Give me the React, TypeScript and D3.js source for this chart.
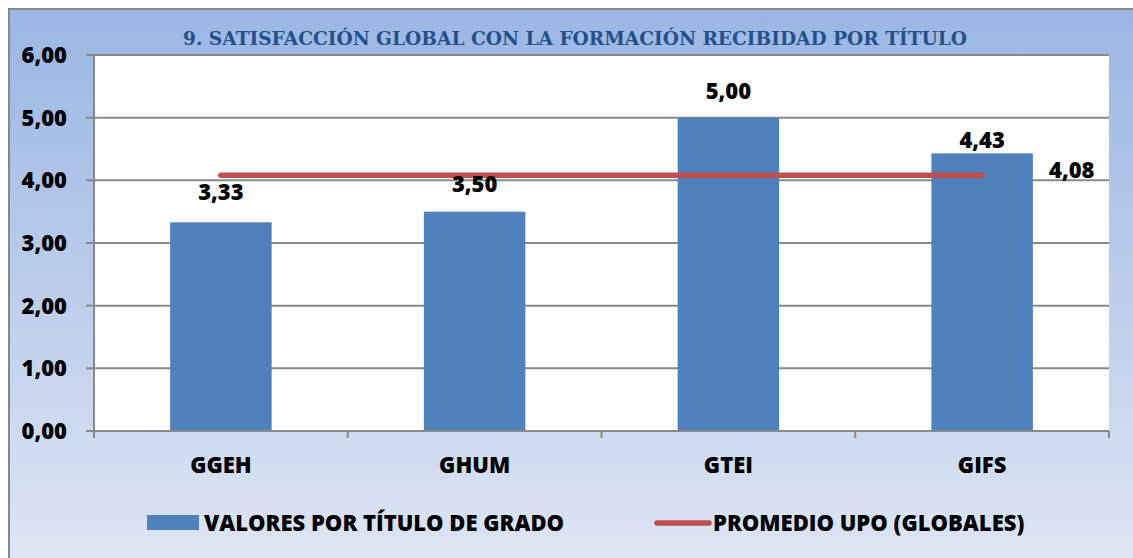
import React from 'react';
import * as d3 from 'd3';

const categories = ['GGEH', 'GHUM', 'GTEI', 'GIFS'];
const values = [3.33, 3.5, 5.0, 4.43];
const average = 4.08;
const yTicks = [0, 1, 2, 3, 4, 5, 6];
const title = '9. SATISFACCIÓN GLOBAL CON LA FORMACIÓN RECIBIDAD POR TÍTULO';
const legendBar = 'VALORES POR TÍTULO DE GRADO';
const legendLine = 'PROMEDIO UPO (GLOBALES)';

const W = 1133, H = 558;
const plot = { left: 94, right: 1109, top: 55, bottom: 431 };
const font = '"Open Sans", Lato, sans-serif';
// labels were nudged by hand in the original, so lift each one on its own
const labelLift = [22, 19.5, 18.5, 5];
const fmt = (v: number) => v.toFixed(2).replace('.', ',');

const App = () => {
  const x = d3.scaleBand().domain(categories).range([plot.left, plot.right]).padding(0);
  const y = d3.scaleLinear().domain([0, 6]).range([plot.bottom, plot.top]);
  const barW = x.bandwidth() * 0.4;
  const cx = (c: string) => (x(c) as number) + x.bandwidth() / 2;

  const line = d3.line<number>()
    .x((d, i) => cx(categories[i]))
    .y(d => y(d));

  const bounds = [...categories.map(c => x(c) as number), plot.right];

  return (
    <div>
      <style>{`body{margin:0;overflow:hidden}`}</style>
      <svg width={W} height={H} style={{ display: 'block' }} fontFamily={font}>
        <defs>
          <linearGradient id="bg" x1="0" y1="0" x2="0" y2="1">
            <stop offset="0" stopColor="#9ab6e3" />
            <stop offset="0.45" stopColor="#b9cbea" />
            <stop offset="1" stopColor="#e1e8f5" />
          </linearGradient>
        </defs>
        <rect x={9} y={9} width={W + 20} height={H + 20} fill="url(#bg)" stroke="#878787" strokeWidth={2} />
        <text x={575} y={45} textAnchor="middle" fontFamily='"DejaVu Serif", "Liberation Serif", serif'
          fontWeight="bold" fontSize={18.6} fill="#24508a">{title}</text>

        <rect x={plot.left} y={plot.top} width={plot.right - plot.left} height={plot.bottom - plot.top} fill="#fff" />

        {yTicks.map(t => (
          <g key={t}>
            {t > 0 && <line x1={plot.left} x2={plot.right} y1={y(t)} y2={y(t)} stroke="#898989" strokeWidth={2} />}
            <line x1={86} x2={plot.left} y1={y(t)} y2={y(t)} stroke="#898989" strokeWidth={2} />
            <text x={67} y={y(t) + 8} textAnchor="end" fontWeight={800} fontSize={22} fill="#000">{fmt(t)}</text>
          </g>
        ))}

        {categories.map((c, i) => (
          <g key={c}>
            <rect x={cx(c) - barW / 2} y={y(values[i])} width={barW} height={plot.bottom - y(values[i])} fill="#4f81bd" />
            <text x={cx(c)} y={473} textAnchor="middle" fontWeight={800} fontSize={22} fill="#000">{c}</text>
          </g>
        ))}

        <line x1={plot.left} x2={plot.left} y1={plot.top} y2={plot.bottom} stroke="#898989" strokeWidth={2} />
        <line x1={plot.left} x2={plot.right} y1={plot.bottom} y2={plot.bottom} stroke="#898989" strokeWidth={2} />
        {bounds.map((b, i) => (
          <line key={i} x1={b} x2={b} y1={plot.bottom} y2={438} stroke="#898989" strokeWidth={2} />
        ))}

        <path d={line(categories.map(() => average)) || ''} fill="none" stroke="#c0504d" strokeWidth={5.5} strokeLinecap="round" />
        <text x={1049} y={y(average) + 3} textAnchor="start" fontWeight={800} fontSize={22} fill="#000">{fmt(average)}</text>

        {categories.map((c, i) => (
          <text key={c} x={cx(c)} y={y(values[i]) - labelLift[i]} textAnchor="middle" fontWeight={800} fontSize={22} fill="#000">{fmt(values[i])}</text>
        ))}

        <rect x={147} y={515} width={52} height={15} fill="#4f81bd" />
        <text x={204} y={531} fontWeight={800} fontSize={22} fill="#000">{legendBar}</text>
        <line x1={657} x2={709} y1={523} y2={523} stroke="#c0504d" strokeWidth={5.5} strokeLinecap="round" />
        <text x={713} y={531} fontWeight={800} fontSize={22} fill="#000">{legendLine}</text>
      </svg>
    </div>
  );
};

export default App;
